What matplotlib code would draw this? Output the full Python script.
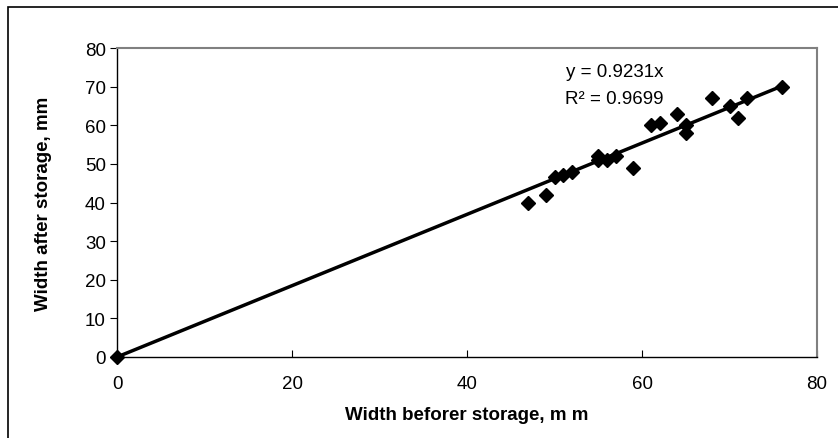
import numpy as np
import matplotlib
matplotlib.use("Agg")
from matplotlib import pyplot as plt
from matplotlib.patches import Rectangle

# width before / after storage, mm
before = [0, 47, 49, 50, 51, 52, 55, 55, 56, 57, 59, 61, 62, 64, 65, 65, 68, 70, 71, 72, 76]
after = [0, 40, 42, 46.5, 47, 48, 52, 51, 51, 52, 49, 60, 60.5, 63, 60, 58, 67, 65, 62, 67, 70]
slope = 0.9231
r2 = 0.9699
xticks = [0, 20, 40, 60, 80]
yticks = [0, 10, 20, 30, 40, 50, 60, 70, 80]

plt.rcParams["font.family"] = ["Liberation Sans", "DejaVu Sans"]

fig = plt.figure(figsize=(8.38, 4.39), dpi=100)
ax = fig.add_axes([117/838, 1 - 358/439, 700/838, 309/439])

# outer chart frame (cut off at right and bottom)
fig.patches.append(Rectangle((8/838, -0.1), 1.1, 1 - 8/439 + 0.1, transform=fig.transFigure,
                             fill=False, edgecolor="black", linewidth=1.2))

xs = np.array([0, max(before)])
ax.plot(xs, slope * xs, color="black", linewidth=2.5, zorder=2)
ax.plot(before, after, linestyle="none", marker="D", markersize=7.5,
        color="black", zorder=3, clip_on=False)

ax.set_xlim(0, 80)
ax.set_ylim(0, 80)
ax.set_xticks(xticks)
ax.set_yticks(yticks)
ax.tick_params(axis="x", direction="in", length=5, labelsize=13.5, pad=13)
ax.tick_params(axis="y", direction="out", length=5, labelsize=13.5, pad=3)

for s in ["left", "bottom"]:
    ax.spines[s].set_color("black")
    ax.spines[s].set_linewidth(1)
for s in ["top", "right"]:
    ax.spines[s].set_color("#808080")
    ax.spines[s].set_linewidth(1.5)

ax.set_xlabel("Width beforer storage, m m", fontsize=13.5, fontweight="bold", labelpad=10)
ax.set_ylabel("Width after storage, mm", fontsize=13.5, fontweight="bold", labelpad=24)

ax.text(0.711, 0.925, "y = %.4fx" % slope, transform=ax.transAxes,
        ha="center", va="center", fontsize=13.5)
ax.text(0.711, 0.838, "R\u00b2 = %.4f" % r2, transform=ax.transAxes,
        ha="center", va="center", fontsize=13.5)

fig.savefig("out.png", dpi=100)
